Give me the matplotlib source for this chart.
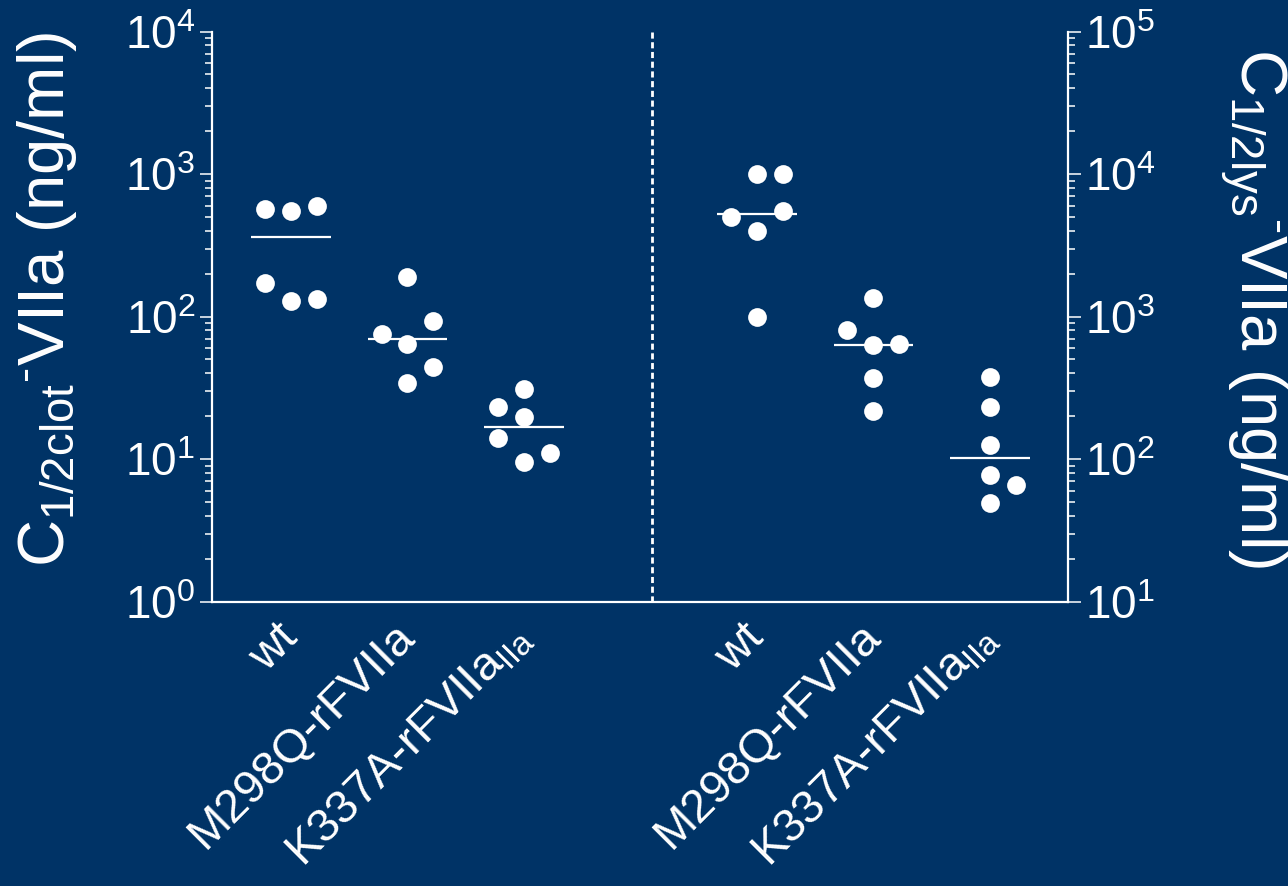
import matplotlib
matplotlib.use("Agg")
import matplotlib.pyplot as plt
import numpy as np

plt.rcParams["font.family"] = ["Liberation Sans", "DejaVu Sans"]
plt.rcParams["mathtext.fontset"] = "custom"
plt.rcParams["mathtext.rm"] = "Liberation Sans"
plt.rcParams["mathtext.it"] = "Liberation Sans:italic"
plt.rcParams["mathtext.bf"] = "Liberation Sans:bold"

BG = "#003366"
FG = "white"

groups = ["wt", "M298Q-rFVIIa", r"K337A-rFVIIa$_{\mathrm{IIa}}$"]

# C1/2clot-VIIa (ng/ml), left panel, per group
clot_values = [
    [568, 549, 596, 172, 129, 133],
    [75, 189, 64, 34, 93, 44],
    [23, 14, 31, 19.6, 9.5, 11],
]
# C1/2lys-VIIa (ng/ml), right panel, per group
lys_values = [
    [5000, 9950, 3980, 997, 9950, 5470],
    [804, 1355, 631, 372, 218, 638],
    [374, 233, 125, 77, 49, 66],
]
# scatter column of each point (-1 left, 0 centre, 1 right)
clot_cols = [[-1, 0, 1, -1, 0, 1], [-1, 0, 0, 0, 1, 1], [-1, -1, 0, 0, 0, 1]]
lys_cols = [[-1, 0, 0, 0, 1, 1], [-1, 0, 0, 0, 0, 1], [0, 0, 0, 0, 0, 1]]

left_pos = [1, 2, 3]
right_pos = [5, 6, 7]
dx = 0.223

fig = plt.figure(figsize=(12.88, 8.86), dpi=100, facecolor=BG)
ax = fig.add_axes([0.1646, 0.3211, 0.6646, 0.6433])
ax.set_facecolor(BG)
ax2 = ax.twinx()


def draw(a, positions, values, cols):
    for p, v, c in zip(positions, values, cols):
        v = np.array(v, dtype=float)
        x = p + np.array(c) * dx
        a.hlines(np.median(v), p - 0.34, p + 0.34, color=FG, lw=1.6, zorder=2)
        a.plot(x, v, "o", ms=13.5, color=FG, mec="none", zorder=3)


draw(ax, left_pos, clot_values, clot_cols)
draw(ax2, right_pos, lys_values, lys_cols)

ax.set_yscale("log")
ax.set_ylim(1, 1e4)
ax2.set_yscale("log")
ax2.set_ylim(10, 1e5)
ax.set_xlim(0.322, 7.67)

# dashed divider between the two panels
ax.axvline(4.1, color=FG, lw=2, ls=(0, (2.2, 1.3)))

for s in ["top", "right"]:
    ax.spines[s].set_visible(False)
for s in ["top", "left", "bottom"]:
    ax2.spines[s].set_visible(False)
ax.spines["left"].set_color(FG)
ax.spines["bottom"].set_color(FG)
ax2.spines["right"].set_color(FG)
for sp in [ax.spines["left"], ax.spines["bottom"], ax2.spines["right"]]:
    sp.set_linewidth(1.6)

for a in [ax, ax2]:
    a.tick_params(axis="y", which="major", length=9, width=1.1, colors=FG,
                  labelsize=33, pad=3)
    a.tick_params(axis="y", which="minor", length=5, width=1.1, colors=FG)

ax.set_xticks(left_pos + right_pos)
ax.set_xticklabels(groups * 2, rotation=45, ha="right", va="center",
                   rotation_mode="anchor", fontsize=34, color=FG)
ax.tick_params(axis="x", length=0, pad=21)

ax.set_ylabel(r"C$_{\mathrm{1/2clot}}$$^{\text{-}}$VIIa (ng/ml)",
              fontsize=47, color=FG)
ax.yaxis.set_label_coords(-0.155, 0.53)
ax2.set_ylabel(r"C$_{\mathrm{1/2lys}}$$^{\text{-}}$VIIa (ng/ml)",
               fontsize=47, color=FG, rotation=270, va="bottom")
ax2.yaxis.set_label_coords(1.174, 0.515)

fig.savefig("out.png", dpi=100, facecolor=BG)
